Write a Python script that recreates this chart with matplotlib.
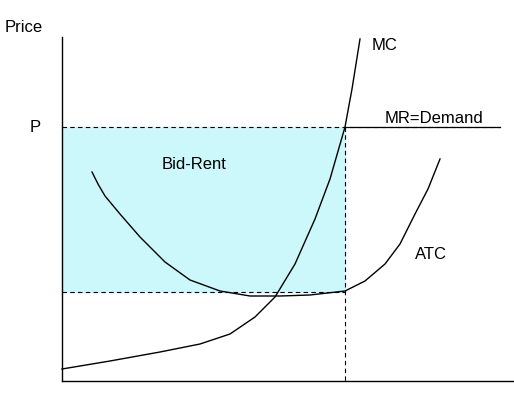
import matplotlib.pyplot as plt

# curve points (pixel space, y down)
mc_x = [62, 110, 160, 200, 230, 255, 275, 295, 315, 330, 345, 352, 360]
mc_y = [370, 362, 353, 345, 335, 318, 298, 265, 220, 180, 128, 90, 40]
atc_x = [92, 98, 105, 120, 140, 165, 190, 220, 250, 280, 310, 345, 365, 385, 400, 415, 428, 440]
atc_y = [173, 185, 197, 215, 238, 263, 281, 292, 297, 297, 296, 292, 282, 265, 245, 215, 190, 160]
price_level = 128
cost_level = 293
quantity = 345

plt.rcParams['font.family'] = ['Liberation Sans', 'DejaVu Sans']
fig = plt.figure(figsize=(5.14, 4.14), dpi=100)
ax = fig.add_axes([0, 0, 1, 1])
ax.set_xlim(0, 514)
ax.set_ylim(414, 0)
ax.axis('off')

ax.fill_between([62, quantity], price_level, cost_level, color='#ccf7fb', zorder=0)
ax.plot([62, 62], [38, 382], color='black', lw=1)
ax.plot([62, 514], [382, 382], color='black', lw=1)
ax.plot([62, 500], [price_level, price_level], color='black', lw=0.8, ls=(0, (4, 3)))
ax.plot([quantity, 500], [price_level, price_level], color='black', lw=0.9)
ax.plot([62, quantity], [cost_level, cost_level], color='black', lw=0.8, ls=(0, (4, 3)))
ax.plot([quantity, quantity], [price_level, 382], color='black', lw=0.8, ls=(0, (4, 3)))
ax.plot(mc_x, mc_y, color='black', lw=1)
ax.plot(atc_x, atc_y, color='black', lw=1)

fs = 12
ax.text(5, 28, 'Price', fontsize=fs, va='center')
ax.text(30, 128, 'P', fontsize=fs, va='center')
ax.text(372, 45, 'MC', fontsize=fs, va='center')
ax.text(385, 119, 'MR=Demand', fontsize=fs, va='center')
ax.text(162, 165, 'Bid-Rent', fontsize=fs, va='center')
ax.text(415, 255, 'ATC', fontsize=fs, va='center')

fig.savefig('out.png', dpi=100)
